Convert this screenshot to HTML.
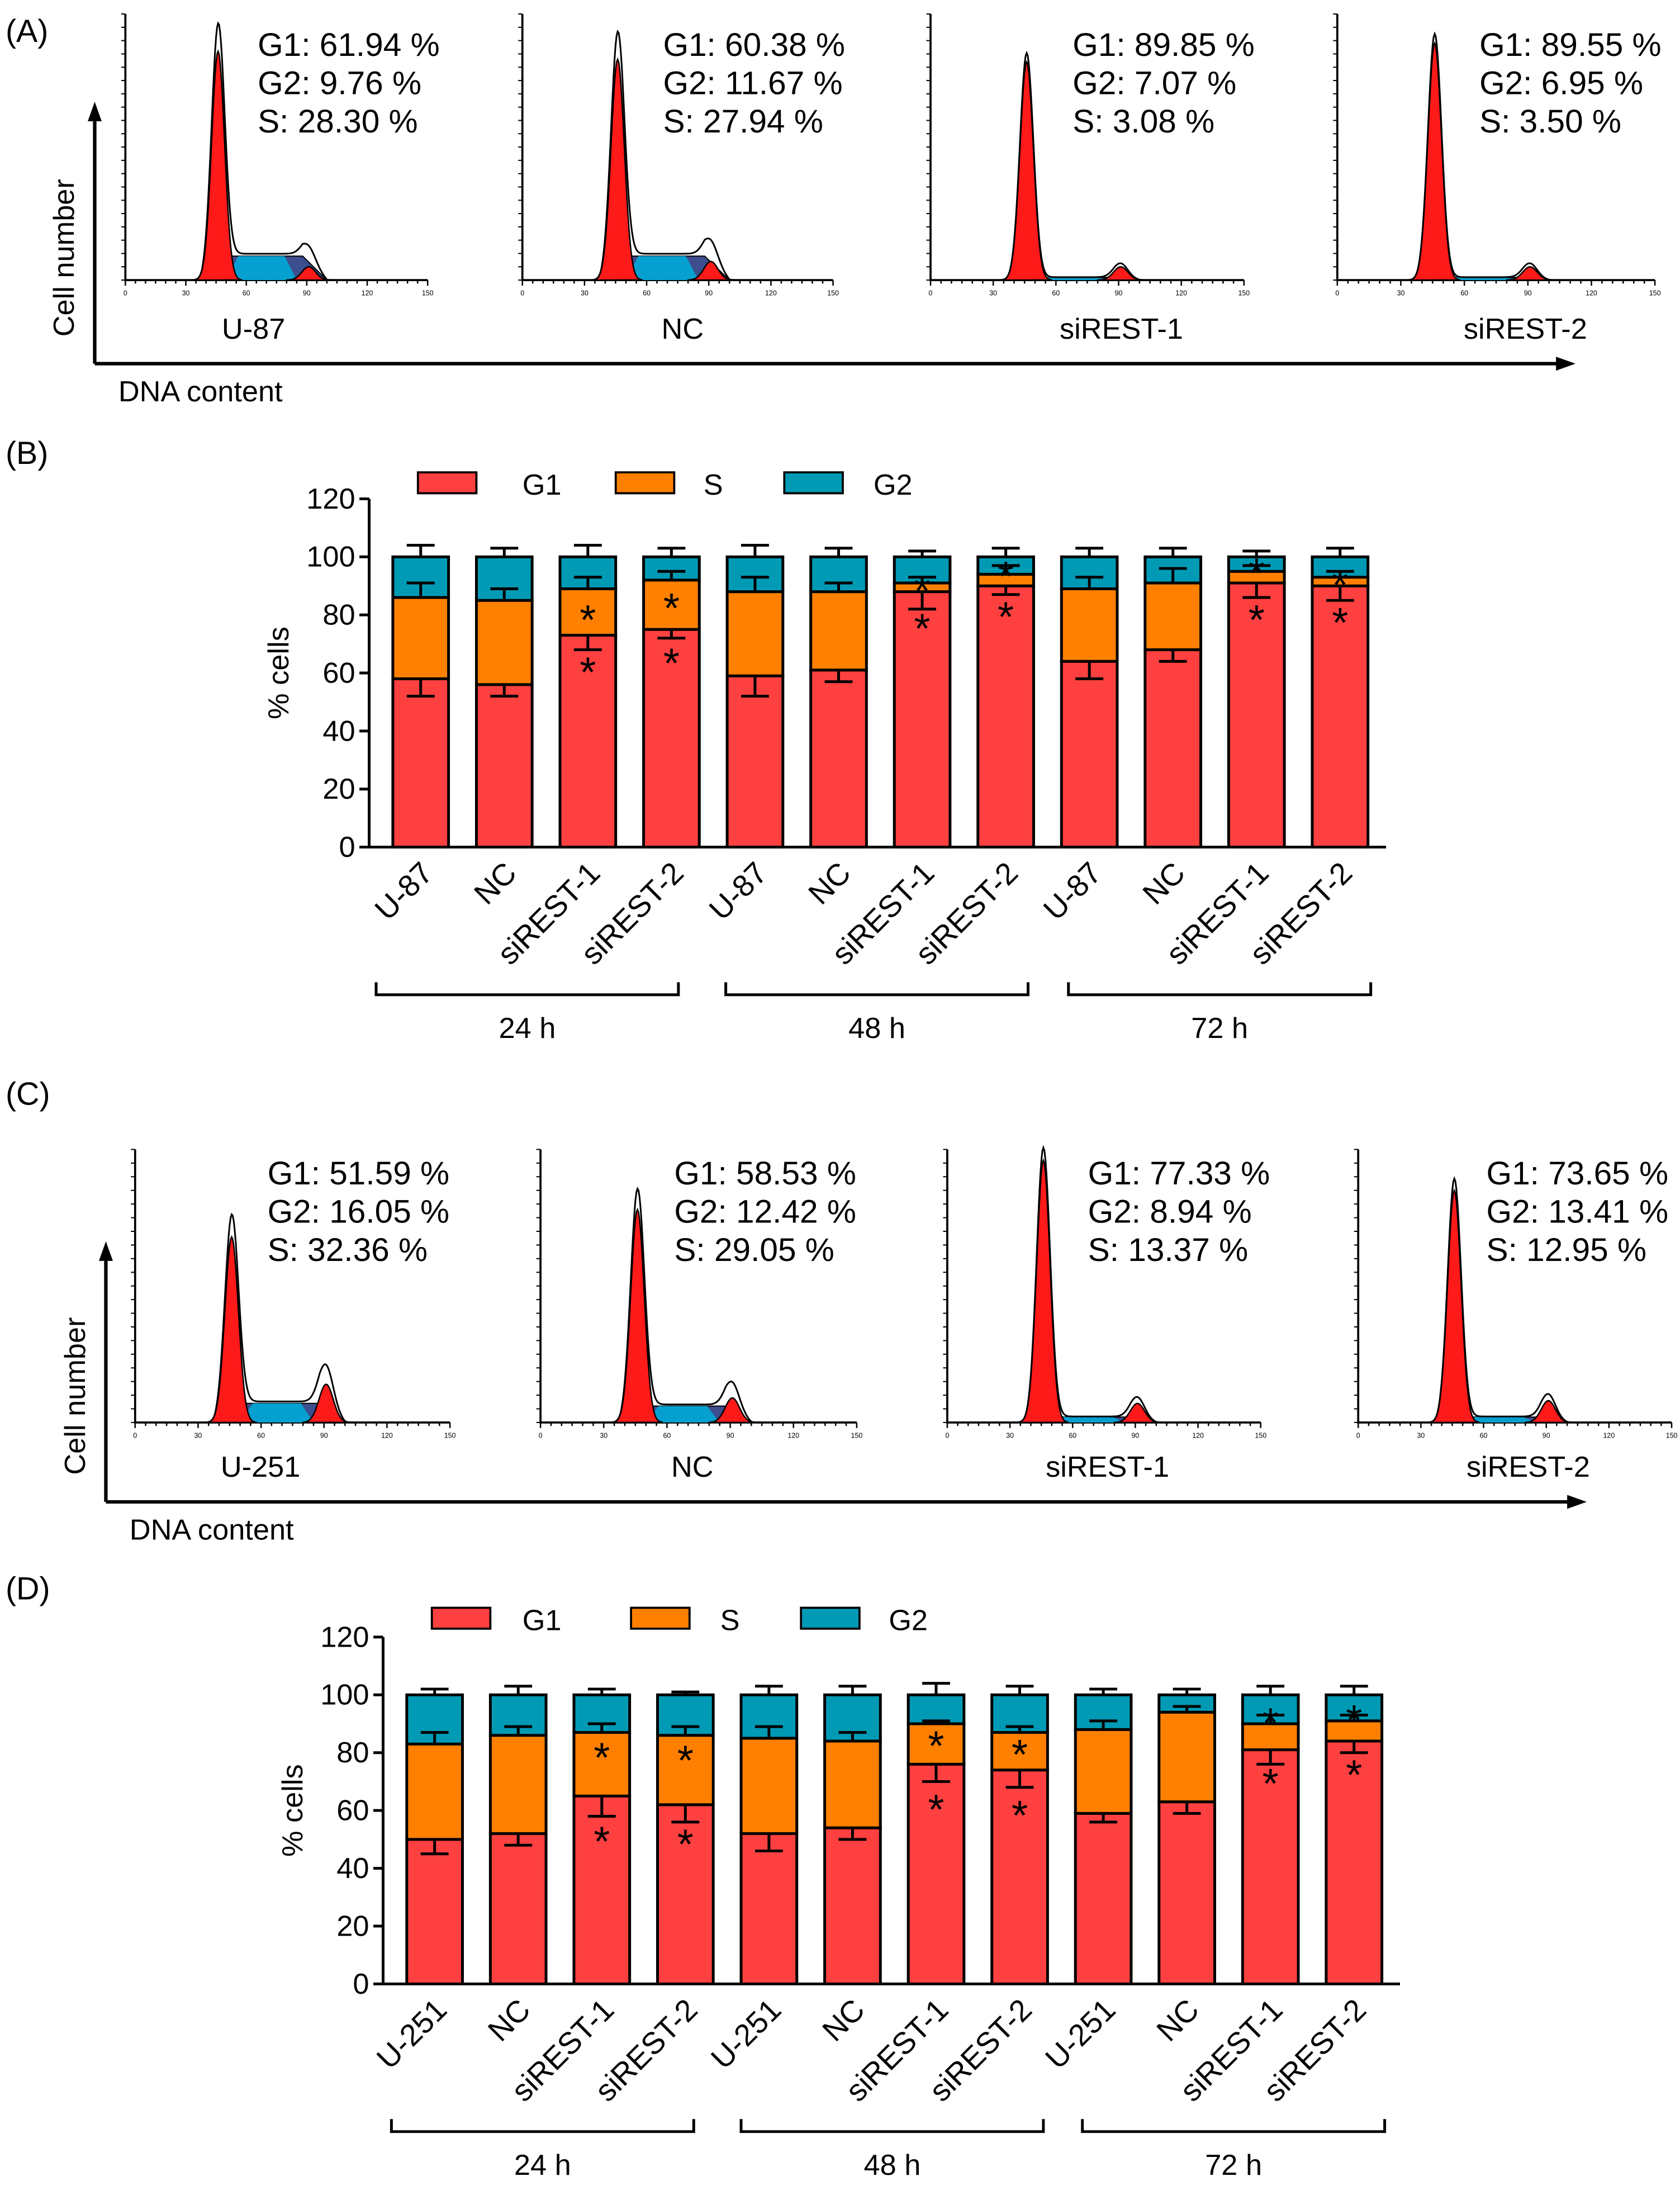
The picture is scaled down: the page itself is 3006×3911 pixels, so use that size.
<!DOCTYPE html>
<html><head><meta charset="utf-8"><style>
html,body{margin:0;padding:0;background:#fff;}
svg{display:block;font-family:"Liberation Sans",sans-serif;}
</style></head><body>
<svg id="fig" width="3006" height="3911" viewBox="0 0 1206 1569" xmlns="http://www.w3.org/2000/svg">
<rect width="1206" height="1569" fill="#fff"/>
<text x="4" y="30" font-size="23">(A)</text>
<text x="4" y="333" font-size="23">(B)</text>
<text x="4" y="793" font-size="23">(C)</text>
<text x="4" y="1148" font-size="23">(D)</text>
<g id="root"></g>
</svg>
<script>
// ---------- Histogram data ----------
var histNamesA = ["U-87","NC","siREST-1","siREST-2"];
var histG1A = ["G1: 61.94 %","G1: 60.38 %","G1: 89.85 %","G1: 89.55 %"];
var histG2A = ["G2: 9.76 %","G2: 11.67 %","G2: 7.07 %","G2: 6.95 %"];
var histSA = ["S: 28.30 %","S: 27.94 %","S: 3.08 %","S: 3.50 %"];
var peakG1A = [0.86,0.83,0.82,0.89];
var levelSA = [0.09,0.09,0.01,0.01];
var peakG2A = [0.05,0.07,0.05,0.05];

var histNamesC = ["U-251","NC","siREST-1","siREST-2"];
var histG1C = ["G1: 51.59 %","G1: 58.53 %","G1: 77.33 %","G1: 73.65 %"];
var histG2C = ["G2: 16.05 %","G2: 12.42 %","G2: 8.94 %","G2: 13.41 %"];
var histSC = ["S: 32.36 %","S: 29.05 %","S: 13.37 %","S: 12.95 %"];
var peakG1C = [0.68,0.78,0.96,0.85];
var levelSC = [0.07,0.06,0.02,0.02];
var peakG2C = [0.14,0.09,0.07,0.08];

// ---------- Bar data ----------
var barCatsB = ["U-87","NC","siREST-1","siREST-2","U-87","NC","siREST-1","siREST-2","U-87","NC","siREST-1","siREST-2"];
var g1B = [58,56,73,75,59,61,88,90,64,68,91,90];
var g1ErrB = [52,52,68,72,52,57,82,87,58,64,86,85];
var sTopB = [86,85,89,92,88,88,91,94,89,91,95,93];
var sErrB = [91,89,93,95,93,91,93,97,93,96,97,95];
var topErrB = [104,103,104,103,104,103,102,103,103,103,102,103];
var starSB = [null,null,81,85,null,null,91,96,null,null,97,93];
var starGB = [null,null,63,66,null,null,78,82,null,null,81,80];

var barCatsD = ["U-251","NC","siREST-1","siREST-2","U-251","NC","siREST-1","siREST-2","U-251","NC","siREST-1","siREST-2"];
var g1D = [50,52,65,62,52,54,76,74,59,63,81,84];
var g1ErrD = [45,48,58,56,46,50,70,68,56,59,76,80];
var sTopD = [83,86,87,86,85,84,90,87,88,94,90,91];
var sErrD = [87,89,90,89,89,87,91,89,91,96,93,93];
var topErrD = [102,103,102,101,103,103,104,103,102,102,103,103];
var starSD = [null,null,81,80,null,null,85,82,null,null,93,94];
var starGD = [null,null,52,51,null,null,63,61,null,null,72,75];

var yTicks = [0,20,40,60,80,100,120];
var groupLabels = ["24 h","48 h","72 h"];

var NS="http://www.w3.org/2000/svg";
var root=document.getElementById('root');
function mk(tag,attrs,parent){var e=document.createElementNS(NS,tag);for(var k in attrs)e.setAttribute(k,attrs[k]);(parent||root).appendChild(e);return e;}

function hist(x0,w,base,h,i,names,g1t,g2t,st,pG1,lS,pG2,labelX,labelY,textX,textY,fs,prefix){
  var g=mk('g',{});
  
  
  function X(v){return x0+v/150*w;}
  function Y(f){return base-f*h;}
  var ax=mk('path',{d:'M'+x0+' '+(base-h)+'V'+base+'H'+(x0+w),stroke:'#000','stroke-width':1.5,fill:'none'},g);
  
  
  for(var t=0;t<=150;t+=5){mk('line',{x1:X(t),x2:X(t),y1:base,y2:base+(t%30==0?4:2.5),stroke:'#000','stroke-width':1},g);}
  for(var t=0;t<=150;t+=30){var tl=mk('text',{x:X(t),y:base+11,'font-size':5,'text-anchor':'middle'},g);tl.textContent=t;}
  for(var k=0;k<=20;k++){var yy=base-k*h/20;mk('line',{x1:x0-3,x2:x0,y1:yy,y2:yy,stroke:'#000','stroke-width':0.8},g);}
  function gauss(v,m,s){return Math.exp(-0.5*Math.pow((v-m)/s,2));}
  function sCurve(v){if(v<38||v>100)return 0;var a=Math.min(1,(v-38)/10),b=Math.min(1,(100-v)/12);return lS[i]*Math.min(a,b);}
  var dS='M'+X(38)+' '+base, dSi='M'+X(50)+' '+base, dG1='M'+X(33)+' '+base, dG2='M'+X(80)+' '+base, dO='M'+X(30)+' '+base;
  for(var v=38;v<=100;v+=1)dS+='L'+X(v)+' '+Y(sCurve(v));
  dS+='L'+X(100)+' '+base+'Z';
  for(var v=50;v<=85;v+=1)dSi+='L'+X(v)+' '+Y(sCurve(v)*Math.min(1,Math.min(v-50,85-v)/6));
  dSi+='Z';
  for(var v=33;v<=58;v+=0.5)dG1+='L'+X(v)+' '+Y(pG1[i]*gauss(v,46,3.2));
  dG1+='Z';
  for(var v=80;v<=102;v+=0.5)dG2+='L'+X(v)+' '+Y(pG2[i]*gauss(v,91,3.4));
  dG2+='Z';
  for(var v=30;v<=110;v+=0.5){var tot=pG1[i]*gauss(v,46,3.2)*1.03+pG2[i]*gauss(v,91,3.4)*1.1+sCurve(v)*1.1;dO+='L'+X(v)+' '+Y(tot);}
  var p=mk('path',{d:dS,fill:'#3d4e8e',stroke:'#000','stroke-width':0.8},g);
  p=mk('path',{d:dSi,fill:'#05a0d0'},g);
  p=mk('path',{d:dG1,fill:'#ff1a1a',stroke:'#000','stroke-width':1},g);
  p=mk('path',{d:dG2,fill:'#ff1a1a',stroke:'#000','stroke-width':1},g);
  p=mk('path',{d:dO,fill:'none',stroke:'#000','stroke-width':1.2},g);
  var lines=[g1t[i],g2t[i],st[i]];
  for(var j=0;j<3;j++){var tx=mk('text',{x:textX,y:textY+j*27.5,'font-size':fs},g);tx.textContent=lines[j];}
  var nl=mk('text',{x:labelX,y:labelY,'font-size':21,'text-anchor':'middle'},g);nl.textContent=names[i];
  
  
}
var xsA=[90,375,668,960],wsA=[217,223,225,228],txA=[185,476,770,1062],lxA=[182,490,805,1095];
for(var i=0;i<4;i++)hist(xsA[i],wsA[i],201,191,i,histNamesA,histG1A,histG2A,histSA,peakG1A,levelSA,peakG2A,lxA[i],243,txA[i],40,23.5,'a');
var xsC=[97,388,680,975],wsC=[226,227,225,225],txC=[192,484,781,1067],lxC=[187,497,795,1097];
for(var i=0;i<4;i++)hist(xsC[i],wsC[i],1021,196,i,histNamesC,histG1C,histG2C,histSC,peakG1C,levelSC,peakG2C,lxC[i],1060,txC[i],850,23.5,'c');

function axesArrows(x,yTop,yBot,xEnd,lblX,lblY,dnaY,pre){
  var a=mk('path',{d:'M'+x+' '+yBot+'V'+(yTop+12)+'M'+x+' '+yBot+'H'+(xEnd-12),stroke:'#000','stroke-width':2.5,fill:'none'});
  
  mk('path',{d:'M'+(x-5)+' '+(yTop+14)+'L'+x+' '+yTop+'L'+(x+5)+' '+(yTop+14)+'Z',fill:'#000'});
  mk('path',{d:'M'+(xEnd-14)+' '+(yBot-5)+'L'+xEnd+' '+yBot+'L'+(xEnd-14)+' '+(yBot+5)+'Z',fill:'#000'});
  var t=mk('text',{x:0,y:0,'font-size':21,'text-anchor':'middle',transform:'translate('+lblX+','+lblY+') rotate(-90)'});t.textContent='Cell number';
  
  t=mk('text',{x:x+17,y:dnaY,'font-size':21});t.textContent='DNA content';
  
}
axesArrows(68,73,261,1131,53,185,288,'a');
axesArrows(76,891,1078,1139,61,1002,1105,'c');

function barChart(ax,base,top,cats,g1,g1e,sT,sE,tE,stS,stG,legY,legXs,legTxtXs,brStarts,pre){
  var g=mk('g',{});
  
  
  var sc=(base-top)/120;
  function Y(v){return base-v*sc;}
  function X(i){return ax+37+i*60;}
  var bw=40;
  var axl=mk('path',{d:'M'+ax+' '+Y(120)+'V'+base+'H'+(ax+730),stroke:'#000','stroke-width':2,fill:'none'},g);
  
  yTicks.forEach(function(t){mk('line',{x1:ax-7,x2:ax,y1:Y(t),y2:Y(t),stroke:'#000','stroke-width':2},g);
    var tl=mk('text',{x:ax-10,y:Y(t)+7,'font-size':21,'text-anchor':'end'},g);tl.textContent=t;
    });
  var yt=mk('text',{x:0,y:0,'font-size':21,'text-anchor':'middle',transform:'translate('+(ax-58)+','+Y(60)+') rotate(-90)'},g);yt.textContent='% cells';
  
  cats.forEach(function(c,i){
    var cx=X(i),x=cx-bw/2;
    var r=mk('rect',{x:x,y:Y(g1[i]),width:bw,height:Y(0)-Y(g1[i]),fill:'#ff4040',stroke:'#000','stroke-width':2},g);
    
    r=mk('rect',{x:x,y:Y(sT[i]),width:bw,height:Y(g1[i])-Y(sT[i]),fill:'#ff8000',stroke:'#000','stroke-width':2},g);
    
    r=mk('rect',{x:x,y:Y(100),width:bw,height:Y(sT[i])-Y(100),fill:'#009ab5',stroke:'#000','stroke-width':2},g);
    
    [[g1[i],g1e[i]],[sT[i],sE[i]],[100,tE[i]]].forEach(function(e){
      mk('path',{d:'M'+cx+' '+Y(e[0])+'V'+Y(e[1])+'M'+(cx-10)+' '+Y(e[1])+'H'+(cx+10),stroke:'#000','stroke-width':2,fill:'none'},g);});
    [stS[i],stG[i]].forEach(function(s){if(s!==null){var st=mk('text',{x:cx,y:Y(s)+16,'font-size':30,'text-anchor':'middle'},g);st.textContent='*';
      }});
    var tl=mk('text',{x:0,y:0,'font-size':22,'text-anchor':'end',transform:'translate('+(cx+10)+','+(base+20)+') rotate(-45)'},g);tl.textContent=c;
    
  });
  groupLabels.forEach(function(l,k){
    var x1=brStarts[k],x2=x1+217,yb=base+106;
    var b=mk('path',{d:'M'+x1+' '+(yb-9)+'V'+yb+'H'+x2+'V'+(yb-9),stroke:'#000','stroke-width':2,fill:'none'},g);
    
    var t=mk('text',{x:(x1+x2)/2,y:yb+31,'font-size':21,'text-anchor':'middle'},g);t.textContent=l;
    
  });
  var leg=[['G1','#ff4040'],['S','#ff8000'],['G2','#009ab5']];
  leg.forEach(function(l,k){
    var lx=legXs[k];
    var r=mk('rect',{x:lx,y:legY-8,width:42,height:15,fill:l[1],stroke:'#000','stroke-width':1.5},g);
    
    var t=mk('text',{x:legTxtXs[k],y:legY+8,'font-size':21},g);t.textContent=l[0];
    
  });
}
barChart(265,608,358,barCatsB,g1B,g1ErrB,sTopB,sErrB,topErrB,starSB,starGB,347,[300,442,563],[375,505,627],[270,521,767],'b');
barChart(275,1424,1175,barCatsD,g1D,g1ErrD,sTopD,sErrD,topErrD,starSD,starGD,1162,[310,453,575],[375,517,638],[281,532,777],'d');
</script>
</body></html>
